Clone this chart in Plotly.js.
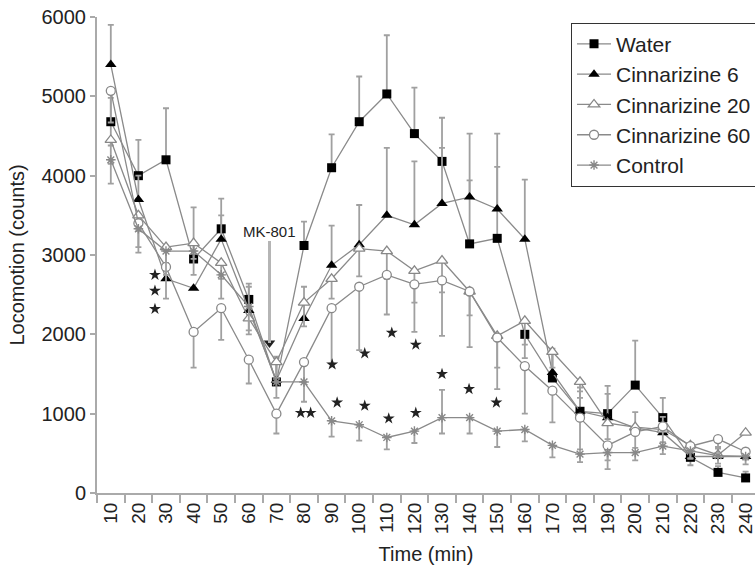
<!DOCTYPE html>
<html>
<head>
<meta charset="utf-8">
<script src="https://cdn.plot.ly/plotly-3.0.1.min.js"></script>
<style>html,body{margin:0;padding:0;overflow:hidden;background:#fff}</style>
</head>
<body>
<div id="chart" style="width:755px;height:574px"></div>
<script>
var times = [10,20,30,40,50,60,70,80,90,100,110,120,130,140,150,160,170,180,190,200,210,220,230,240];
var tickLabels = times.map(String);

var water = [4680,4000,4200,2950,3330,2440,1400,3120,4100,4680,5030,4530,4180,3140,3210,2000,1450,1030,1000,1360,950,450,260,190];
var waterPlus = [300,450,650,650,380,200,300,300,420,570,740,580,550,800,900,0,300,300,350,560,250,150,80,80];
var waterMinus = [300,0,0,0,0,0,0,0,0,0,0,0,0,0,0,300,0,0,0,0,0,100,0,0];

var cinn6 = [5400,3700,2700,2580,3200,2300,1420,2200,2870,3130,3500,3380,3650,3730,3580,3200,1520,1030,950,820,760,460,460,460];
var cinn6Plus = [500,300,350,0,300,300,300,400,500,500,850,800,700,800,950,750,300,250,300,200,200,150,100,100];
var cinn6Minus = [0,0,0,0,0,0,0,0,0,0,0,0,0,0,0,0,0,0,0,0,0,0,0,0];

var cinn20 = [4450,3500,3100,3150,2900,2200,1650,2400,2700,3080,3050,2800,2930,2540,1980,2170,1780,1400,880,830,800,600,480,760];
var cinn20Plus = [0,0,0,0,0,0,0,0,0,0,0,0,0,0,0,0,0,0,0,0,0,0,0,0];
var cinn20Minus = [300,200,200,200,200,200,200,300,250,350,350,400,400,300,400,300,200,200,200,0,0,0,0,0];

var cinn60 = [5070,3400,2850,2030,2330,1680,1000,1650,2330,2600,2750,2630,2680,2540,1960,1600,1290,950,600,770,840,590,680,520];
var cinn60Plus = [0,0,0,0,0,0,0,0,0,0,0,0,0,0,0,0,0,0,0,0,0,0,0,0];
var cinn60Minus = [400,300,400,450,400,300,250,250,700,800,500,600,700,700,650,600,400,400,300,200,200,150,100,100];

var control = [4200,3330,3050,3050,2750,2350,1400,1400,910,860,700,780,950,950,780,800,600,490,510,510,590,530,470,460];
var controlPlus = [0,0,0,0,0,0,0,0,0,0,0,0,350,0,0,0,0,0,0,0,0,0,0,0];
var controlMinus = [300,300,300,300,300,300,200,250,200,200,150,150,200,200,200,150,150,100,100,100,100,100,100,100];

var starX = [26,26,26,78.8,82.4,90.2,92,102,102,110.7,111.8,120.5,120.5,130,139.8,149.7];
var starY = [2750,2550,2320,1010,1010,1620,1140,1760,1100,940,2020,1870,1010,1500,1310,1140];

var mkX = [67.5];
var mkY = [1890];

var lineCol = '#8a8a8a';
var errCol = '#a0a0a0';
function errs(plus, minus){
  return {type:'data', symmetric:false, array:plus, arrayminus:minus, color:errCol, thickness:1.8, width:3};
}
function series(name, y, plus, minus, marker, g){
  return {x:times, y:y, name:name, type:'scatter', mode:'lines+markers',
    legendgroup:g, line:{color:lineCol, width:1.3}, marker:marker, error_y:errs(plus, minus)};
}
var traces = [
  series('Water', water, waterPlus, waterMinus, {symbol:'square', size:9, color:'#000', line:{color:'#000', width:0}}, 'a'),
  series('Cinnarizine 6', cinn6, cinn6Plus, cinn6Minus, {symbol:'triangle-up', size:10, color:'#000', line:{color:'#000', width:0}}, 'b'),
  series('Cinnarizine 20', cinn20, cinn20Plus, cinn20Minus, {symbol:'triangle-up', size:10, color:'#fff', line:{color:'#888', width:1.3}}, 'c'),
  series('Cinnarizine 60', cinn60, cinn60Plus, cinn60Minus, {symbol:'circle', size:9, color:'#fff', line:{color:'#888', width:1.3}}, 'd'),
  series('Control', control, controlPlus, controlMinus, {symbol:'asterisk-open', size:8, color:'#888', line:{color:'#888', width:1.4}}, 'e'),
  {x:starX, y:starY, type:'scatter', mode:'markers', showlegend:false, hoverinfo:'skip',
    marker:{symbol:'star', size:9, color:'#222'}},
  {x:mkX, y:mkY, type:'scatter', mode:'markers', showlegend:false, hoverinfo:'skip',
    marker:{symbol:'triangle-down', size:10, color:'#222'}}
];

var fam = '"Liberation Sans", Arial, sans-serif';
var layout = {
  width:755, height:574,
  margin:{l:97, r:0, t:17, b:81, autoexpand:false},
  paper_bgcolor:'#fff', plot_bgcolor:'#fff',
  font:{family:fam, size:20, color:'#222'},
  showlegend:true,
  legend:{x:0.7204, y:0.988, xanchor:'left', yanchor:'top', bordercolor:'#333', borderwidth:1,
    bgcolor:'#fff', font:{family:fam, size:21, color:'#222'}, tracegroupgap:0, itemwidth:34},
  xaxis:{range:[5,243.4], tickmode:'array', tickvals:times, ticktext:tickLabels, ticks:'', tickangle:-90,
    ticklabeloverflow:'allow',
    minor:{tick0:5, dtick:10, ticks:'outside', ticklen:8, tickcolor:'#aaa', tickwidth:2},
    showline:true, linecolor:'#aaa', linewidth:2, showgrid:false, zeroline:false,
    tickfont:{family:fam, size:19, color:'#222'},
    title:{text:'Time (min)', font:{family:fam, size:20, color:'#222'}, standoff:14}},
  yaxis:{range:[0,6000], dtick:1000, ticks:'outside', ticklen:5, tickcolor:'#aaa', tickwidth:2,
    showline:true, linecolor:'#aaa', linewidth:2, showgrid:false, zeroline:false,
    tickfont:{family:fam, size:20, color:'#222'},
    title:{text:'Locomotion (counts)', font:{family:fam, size:20, color:'#222'}, standoff:12}},
  annotations:[
    {x:mkX[0], y:mkY[0], xref:'x', yref:'y', text:'MK-801', showarrow:true, arrowhead:0,
     arrowcolor:'#b5b5b5', arrowwidth:3, ax:0, ay:-112, font:{family:fam, size:15, color:'#222'}}
  ]
};
Plotly.newPlot('chart', traces, layout, {displayModeBar:false, staticPlot:true});
</script>
</body>
</html>
